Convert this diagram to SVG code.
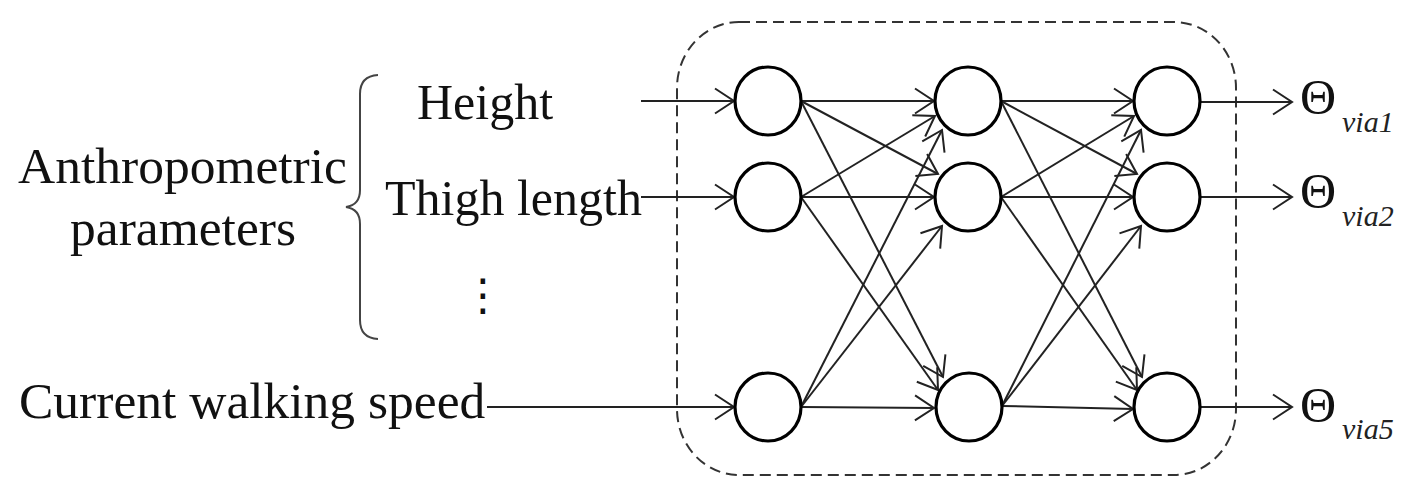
<svg xmlns="http://www.w3.org/2000/svg" width="1411" height="494" viewBox="0 0 1411 494">
<style>
.t{font-family:"Liberation Serif","Times New Roman",serif;font-size:50px;fill:#111}
.s{font-family:"Liberation Serif","Times New Roman",serif;font-size:30px;font-style:italic;fill:#222}
.n{fill:#fff;stroke:#000;stroke-width:3.2}
.c{stroke:#222;stroke-width:2;fill:none;marker-end:url(#ah)}
</style>
<defs>
<marker id="ah" markerUnits="userSpaceOnUse" viewBox="-1 -1 22 28" refX="19" refY="12.5" markerWidth="22" markerHeight="28" orient="auto" overflow="visible">
<path d="M0,0 L19,12.5 L0,25" fill="none" stroke="#222" stroke-width="2"/>
</marker>
</defs>
<rect width="1411" height="494" fill="#fff"/>
<rect id="box" x="677" y="22" width="559" height="453" rx="62" ry="66" fill="none" stroke="#333" stroke-width="2" stroke-dasharray="11,6"/>
<g id="labels">
<text class="t" x="18" y="183" style="font-size:51.5px">Anthropometric</text>
<text class="t" x="183" y="245" text-anchor="middle" style="font-size:51.5px">parameters</text>
<path d="M378,75 Q360,76 360,94 L360,190 Q360,205 346,207 Q360,209 360,224 L360,320 Q360,338 378,339" fill="none" stroke="#444" stroke-width="2"/>
<text class="t" x="417" y="119">Height</text>
<text class="t" x="385" y="215">Thigh length</text>
<text x="483" y="310" text-anchor="middle" style="font-family:'DejaVu Sans',sans-serif;font-size:44px;fill:#111">⋮</text>
<text class="t" x="19" y="418" style="font-size:51.5px">Current walking speed</text>
</g>
<g id="connectors">
<line class="c" x1="641" y1="101" x2="734" y2="101"/>
<line class="c" x1="641" y1="197" x2="734" y2="197"/>
<line class="c" x1="487" y1="407" x2="734" y2="407"/>
<line class="c" x1="801" y1="101" x2="934" y2="101"/>
<line class="c" x1="801" y1="101" x2="938" y2="174"/>
<line class="c" x1="801" y1="101" x2="943" y2="377"/>
<line class="c" x1="801" y1="197" x2="935" y2="116"/>
<line class="c" x1="801" y1="197" x2="934" y2="197"/>
<line class="c" x1="801" y1="197" x2="938" y2="390"/>
<line class="c" x1="801" y1="407" x2="942" y2="130"/>
<line class="c" x1="801" y1="407" x2="942" y2="226"/>
<line class="c" x1="801" y1="407" x2="934" y2="408"/>
<line class="c" x1="1001" y1="101" x2="1133" y2="101"/>
<line class="c" x1="1001" y1="101" x2="1137" y2="174"/>
<line class="c" x1="1001" y1="101" x2="1142" y2="377"/>
<line class="c" x1="1001" y1="197" x2="1134" y2="116"/>
<line class="c" x1="1001" y1="197" x2="1133" y2="197"/>
<line class="c" x1="1001" y1="197" x2="1137" y2="390"/>
<line class="c" x1="1002" y1="406" x2="1141" y2="130"/>
<line class="c" x1="1002" y1="406" x2="1141" y2="226"/>
<line class="c" x1="1002" y1="406" x2="1133" y2="409"/>
<line class="c" x1="1201" y1="102" x2="1292" y2="102"/>
<line class="c" x1="1201" y1="197" x2="1292" y2="197"/>
<line class="c" x1="1201" y1="407" x2="1292" y2="407"/>
</g>
<g id="n11"><ellipse class="n" cx="768" cy="101" rx="33" ry="34"/></g>
<g id="n12"><ellipse class="n" cx="768" cy="197" rx="33" ry="34"/></g>
<g id="n13"><ellipse class="n" cx="768" cy="407" rx="33" ry="34"/></g>
<g id="n21"><ellipse class="n" cx="968" cy="101" rx="33" ry="34"/></g>
<g id="n22"><ellipse class="n" cx="968" cy="197" rx="33" ry="34"/></g>
<g id="n23"><ellipse class="n" cx="969" cy="407" rx="33" ry="34"/></g>
<g id="n31"><ellipse class="n" cx="1167" cy="101" rx="33" ry="34"/></g>
<g id="n32"><ellipse class="n" cx="1167" cy="197" rx="33" ry="34"/></g>
<g id="n33"><ellipse class="n" cx="1167" cy="407" rx="33" ry="34"/></g>
<g id="outputs">
<text class="t" x="1300" y="114">Θ</text><text class="s" x="1342" y="132">via1</text>
<text class="t" x="1300" y="208">Θ</text><text class="s" x="1342" y="226">via2</text>
<text class="t" x="1300" y="422">Θ</text><text class="s" x="1342" y="439">via5</text>
</g>
</svg>
